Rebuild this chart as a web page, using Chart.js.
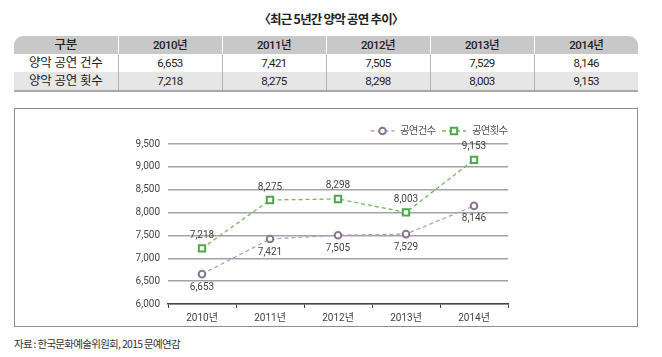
<!DOCTYPE html>
<html><head><meta charset="utf-8">
<script src="https://cdn.jsdelivr.net/npm/chart.js@4/dist/chart.umd.min.js"></script>
<style>
html,body{margin:0;padding:0;background:#fff;}
body{width:662px;height:357px;position:relative;overflow:hidden;font-family:Roboto,'Noto Sans CJK KR',sans-serif;color:#222;}
#title{position:absolute;left:0;top:9px;width:662px;text-align:center;font-size:12.5px;font-weight:700;letter-spacing:-0.8px;color:#222;font-family:'Noto Sans CJK KR',sans-serif;}
table{position:absolute;left:14px;top:36px;width:624px;border-collapse:collapse;table-layout:fixed;font-size:11.5px;letter-spacing:-0.5px;}
td{height:18px;padding:0;text-align:center;vertical-align:middle;border-left:1px solid #b5b5b5;line-height:18px;}
td:first-child{border-left:none;font-size:12.5px;letter-spacing:-0.2px;}
tr.h td{background:#c8c8c8;border-left:1px solid #fff;font-weight:500;}
tr.h td:first-child{border-left:none;border-top-left-radius:9px;}
tr.h td:last-child{border-top-right-radius:9px;}
tr.g td{background:#e6e6e6;}
tr.last td{border-bottom:2px solid #a8a8a8;}
#box{position:absolute;left:14px;top:108px;width:624px;height:219px;border:1px solid #8c8c8c;box-sizing:border-box;}
#cw{position:absolute;left:15px;top:109px;width:622px;height:217px;}
#src{position:absolute;left:14px;top:336px;font-size:10.5px;color:#333;letter-spacing:-0.7px;font-family:'Noto Sans CJK KR',sans-serif;}
</style></head>
<body>
<div id="title">〈최근 5년간 양악 공연 추이〉</div>
<table id="tbl"></table>
<div id="box"></div>
<div id="cw"><canvas id="c"></canvas></div>
<div id="src">자료 : 한국문화예술위원회, 2015 문예연감</div>
<script>
const categories = ['2010년','2011년','2012년','2013년','2014년'];
const seriesNames = ['공연건수','공연횟수'];
const tableRowNames = ['양악 공연 건수','양악 공연 횟수'];
const performanceCases = [6653, 7421, 7505, 7529, 8146];
const performanceCounts = [7218, 8275, 8298, 8003, 9153];
const yTicks = [6000, 6500, 7000, 7500, 8000, 8500, 9000, 9500];

const fmt = v => v.toLocaleString('en-US');

// table
const tbl = document.getElementById('tbl');
let html = '<tr class="h"><td>구분</td>' + categories.map(c => '<td>' + c + '</td>').join('') + '</tr>';
html += '<tr><td>' + tableRowNames[0] + '</td>' + performanceCases.map(v => '<td>' + fmt(v) + '</td>').join('') + '</tr>';
html += '<tr class="g last"><td>' + tableRowNames[1] + '</td>' + performanceCounts.map(v => '<td>' + fmt(v) + '</td>').join('') + '</tr>';
tbl.innerHTML = html;

const purpleLine = '#b49dca', purplePt = '#8a7492';
const greenLine = '#79b85a', greenPt = '#4ea64a';
const FONT = "Roboto, 'Noto Sans CJK KR', sans-serif";

const labelPlugin = {
  id: 'valueLabels',
  afterDatasetsDraw(chart) {
    const ctx = chart.ctx;
    ctx.save();
    ctx.font = '10px ' + FONT;
    ctx.fillStyle = '#444';
    ctx.textAlign = 'center';
    ctx.textBaseline = 'middle';
    chart.data.datasets.forEach((ds, i) => {
      const meta = chart.getDatasetMeta(i);
      meta.data.forEach((pt, j) => {
        const off = i === 0 ? 13 : -13;
        ctx.fillText(fmt(ds.data[j]), pt.x, pt.y + off);
      });
    });
    ctx.restore();
  }
};

const legendPlugin = {
  id: 'customLegend',
  afterDraw(chart) {
    const ctx = chart.ctx;
    const a = chart.chartArea;
    const y = a.top - 13;
    ctx.save();
    ctx.font = '10.5px ' + FONT;
    try { ctx.letterSpacing = '-0.8px'; } catch (e) {}
    ctx.textBaseline = 'middle';
    ctx.textAlign = 'left';
    const items = [
      {name: seriesNames[0], line: purpleLine, pt: purplePt, style: 'circle', cx: a.right - 125.5, tx: a.right - 108},
      {name: seriesNames[1], line: greenLine, pt: greenPt, style: 'rect', cx: a.right - 54, tx: a.right - 36}
    ];
    items.forEach(it => {
      ctx.strokeStyle = it.line;
      ctx.lineWidth = 1.3;
      ctx.setLineDash([4, 3]);
      ctx.beginPath();
      ctx.moveTo(it.cx - 12, y); ctx.lineTo(it.cx + 12, y);
      ctx.stroke();
      ctx.setLineDash([]);
      ctx.fillStyle = '#fff';
      ctx.strokeStyle = it.pt;
      ctx.lineWidth = 2;
      ctx.beginPath();
      if (it.style === 'circle') ctx.arc(it.cx, y, 3.3, 0, Math.PI * 2);
      else ctx.rect(it.cx - 3.2, y - 3.2, 6.4, 6.4);
      ctx.fill(); ctx.stroke();
      ctx.fillStyle = '#555';
      ctx.fillText(it.name, it.tx, y + 0.5);
    });
    ctx.restore();
  }
};

new Chart(document.getElementById('c'), {
  type: 'line',
  data: {
    labels: categories,
    datasets: [
      {
        label: seriesNames[0], data: performanceCases,
        borderColor: purpleLine, borderWidth: 1.3, borderDash: [4, 3],
        pointStyle: 'circle', pointRadius: 3.3, pointBorderWidth: 2,
        pointBorderColor: purplePt, pointBackgroundColor: '#fff', tension: 0
      },
      {
        label: seriesNames[1], data: performanceCounts,
        borderColor: greenLine, borderWidth: 1.3, borderDash: [4, 3],
        pointStyle: 'rect', pointRadius: 4.5, pointBorderWidth: 2,
        pointBorderColor: greenPt, pointBackgroundColor: '#fff', tension: 0
      }
    ]
  },
  options: {
    responsive: true, maintainAspectRatio: false, animation: false,
    layout: { padding: { left: 0, right: 129, top: 35, bottom: 0 } },
    plugins: { legend: { display: false }, tooltip: { enabled: false } },
    scales: {
      x: {
        offset: true,
        grid: { offset: true, drawOnChartArea: false, drawTicks: true, tickLength: 4, color: '#444', lineWidth: 1 },
        border: { display: true, color: '#444', width: 1.5 },
        ticks: { padding: 4, color: '#444', font: { size: 10, family: FONT } },
        afterFit(s) { s.height = 22; }
      },
      y: {
        min: yTicks[0], max: yTicks[yTicks.length - 1],
        afterBuildTicks(s) { s.ticks = yTicks.map(v => ({ value: v })); },
        grid: { color: '#a3a3a3', lineWidth: 1.5, drawTicks: false },
        border: { display: false },
        ticks: { padding: 8, color: '#444', font: { size: 10, family: FONT }, callback: v => fmt(v) },
        afterFit(s) { s.width = 153; }
      }
    }
  },
  plugins: [labelPlugin, legendPlugin]
});
</script>
</body></html>
